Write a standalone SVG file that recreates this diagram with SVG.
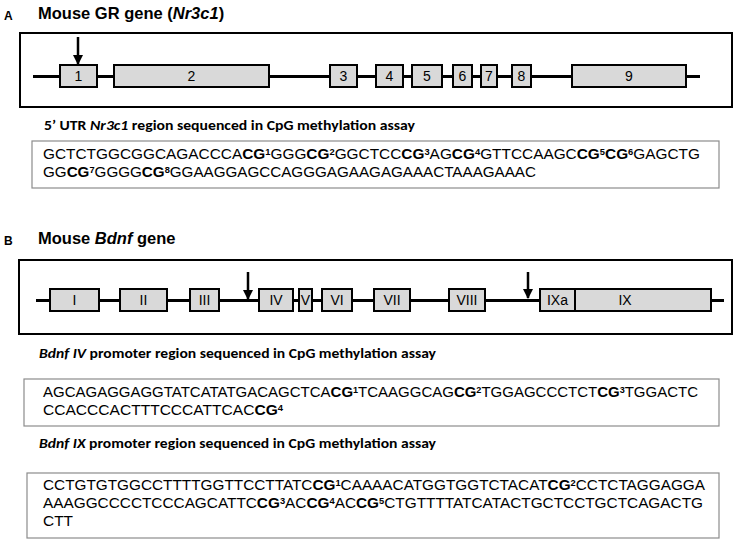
<svg xmlns="http://www.w3.org/2000/svg" width="734" height="540" viewBox="0 0 734 540">
<defs>
<style>
.lbl{font-family:"Liberation Sans",Arial,sans-serif;font-weight:bold;font-size:12px;fill:#000}
.title{font-family:"Liberation Sans",Arial,sans-serif;font-weight:bold;font-size:16.5px;fill:#000}
.sub{font-family:Carlito,"Open Sans",sans-serif;font-weight:bold;font-size:13.5px;fill:#000}
.seq{font-family:"Liberation Sans",Arial,sans-serif;font-size:14px;fill:#000}
.b{font-weight:bold}
.sup{font-weight:bold;font-size:8.5px}
.frame{fill:#fff;stroke:#000;stroke-width:2}
.seqbox{fill:#fff;stroke:#8c8c8c;stroke-width:1.2}
.exon{fill:#d9d9d9;stroke:#000;stroke-width:2}
.gl{stroke:#000;stroke-width:3;fill:none}
.ex{font-family:"Liberation Sans",Arial,sans-serif;font-size:14px;fill:#000;text-anchor:middle}
.arr{stroke:#000;stroke-width:2.5;fill:none}
</style>
<marker id="ah" viewBox="0 0 10 10" refX="9" refY="5" markerWidth="4" markerHeight="4" orient="auto" markerUnits="strokeWidth"><path d="M0,0 L10,5 L0,10 z" fill="#000"/></marker>
</defs>
<rect width="734" height="540" fill="#fff"/>

<!-- Panel titles and frames -->
<text class="lbl" x="4" y="20">A</text>
<text class="title" x="38" y="19">Mouse GR gene (<tspan font-style="italic">Nr3c1</tspan>)</text>
<rect class="frame" x="20" y="33" width="712" height="74"/>
<text class="lbl" x="4" y="245">B</text>
<text class="title" x="38" y="244">Mouse <tspan font-style="italic">Bdnf</tspan> gene</text>
<rect class="frame" x="19" y="260" width="713" height="74"/>

<g id="connectors">
<line class="gl" x1="33" y1="76.5" x2="700" y2="76.5"/>
<line class="gl" x1="36" y1="300.5" x2="724" y2="300.5"/>
<line class="arr" x1="78" y1="37" x2="78" y2="64" marker-end="url(#ah)"/>
<line class="arr" x1="248" y1="272" x2="248" y2="299" marker-end="url(#ah)"/>
<line class="arr" x1="528" y1="272" x2="528" y2="298" marker-end="url(#ah)"/>
</g>

<g id="exA1"><rect class="exon" x="60" y="65" width="37" height="22"/><text class="ex" x="78.5" y="81">1</text></g>
<g id="exA2"><rect class="exon" x="114" y="65" width="155" height="22"/><text class="ex" x="191.5" y="81">2</text></g>
<g id="exA3"><rect class="exon" x="330" y="65" width="27" height="22"/><text class="ex" x="343.5" y="81">3</text></g>
<g id="exA4"><rect class="exon" x="376" y="65" width="27" height="22"/><text class="ex" x="389.5" y="81">4</text></g>
<g id="exA5"><rect class="exon" x="412" y="65" width="30" height="22"/><text class="ex" x="427" y="81">5</text></g>
<g id="exA6"><rect class="exon" x="453" y="65" width="19" height="22"/><text class="ex" x="462.5" y="81">6</text></g>
<g id="exA7"><rect class="exon" x="481" y="65" width="16" height="22"/><text class="ex" x="489" y="81">7</text></g>
<g id="exA8"><rect class="exon" x="512" y="65" width="19" height="22"/><text class="ex" x="521.5" y="81">8</text></g>
<g id="exA9"><rect class="exon" x="572" y="65" width="114" height="22"/><text class="ex" x="629" y="81">9</text></g>

<text class="sub" x="44" y="130" textLength="371" lengthAdjust="spacingAndGlyphs">5’ UTR <tspan font-style="italic">Nr3c1</tspan> region sequenced in CpG methylation assay</text>
<g id="seqA">
<rect class="seqbox" x="32" y="141" width="687" height="47"/>
<text class="seq" x="43" y="159" textLength="657" lengthAdjust="spacingAndGlyphs">GCTCTGGCGGCAGACCCA<tspan class="b">CG</tspan><tspan class="sup" dy="-4">1</tspan><tspan dy="4">GGG</tspan><tspan class="b">CG</tspan><tspan class="sup" dy="-4">2</tspan><tspan dy="4">GGCTCC</tspan><tspan class="b">CG</tspan><tspan class="sup" dy="-4">3</tspan><tspan dy="4">AG</tspan><tspan class="b">CG</tspan><tspan class="sup" dy="-4">4</tspan><tspan dy="4">GTTCCAAGC</tspan><tspan class="b">CG</tspan><tspan class="sup" dy="-4">5</tspan><tspan class="b" dy="4">CG</tspan><tspan class="sup" dy="-4">6</tspan><tspan dy="4">GAGCTG</tspan></text>
<text class="seq" x="43" y="177" textLength="493" lengthAdjust="spacingAndGlyphs">GG<tspan class="b">CG</tspan><tspan class="sup" dy="-4">7</tspan><tspan dy="4">GGGG</tspan><tspan class="b">CG</tspan><tspan class="sup" dy="-4">8</tspan><tspan dy="4">GGAAGGAGCCAGGGAGAAGAGAAACTAAAGAAAC</tspan></text>
</g>

<g id="exB1"><rect class="exon" x="50" y="289" width="49" height="22"/><text class="ex" x="74.5" y="305">I</text></g>
<g id="exB2"><rect class="exon" x="120" y="289" width="47" height="22"/><text class="ex" x="143.5" y="305">II</text></g>
<g id="exB3"><rect class="exon" x="190" y="289" width="29" height="22"/><text class="ex" x="204.5" y="305">III</text></g>
<g id="exB4"><rect class="exon" x="259" y="289" width="34" height="22"/><text class="ex" x="276" y="305">IV</text></g>
<g id="exB5"><rect class="exon" x="299" y="289" width="13" height="22"/><text class="ex" x="305.5" y="305">V</text></g>
<g id="exB6"><rect class="exon" x="322" y="289" width="30" height="22"/><text class="ex" x="337" y="305">VI</text></g>
<g id="exB7"><rect class="exon" x="374" y="289" width="36" height="22"/><text class="ex" x="392" y="305">VII</text></g>
<g id="exB8"><rect class="exon" x="449" y="289" width="36" height="22"/><text class="ex" x="467" y="305">VIII</text></g>
<g id="exB9a"><rect class="exon" x="540" y="289" width="35" height="22"/><text class="ex" x="557.5" y="305">IXa</text></g>
<g id="exB9"><rect class="exon" x="575" y="289" width="136" height="22"/><text class="ex" x="625" y="305">IX</text></g>

<text class="sub" x="39" y="358" textLength="397" lengthAdjust="spacingAndGlyphs"><tspan font-style="italic">Bdnf IV</tspan> promoter region sequenced in CpG methylation assay</text>
<g id="seqB4">
<rect class="seqbox" x="24" y="379" width="695" height="47"/>
<text class="seq" x="43" y="397" textLength="655" lengthAdjust="spacingAndGlyphs">AGCAGAGGAGGTATCATATGACAGCTCA<tspan class="b">CG</tspan><tspan class="sup" dy="-4">1</tspan><tspan dy="4">TCAAGGCAG</tspan><tspan class="b">CG</tspan><tspan class="sup" dy="-4">2</tspan><tspan dy="4">TGGAGCCCTCT</tspan><tspan class="b">CG</tspan><tspan class="sup" dy="-4">3</tspan><tspan dy="4">TGGACTC</tspan></text>
<text class="seq" x="43" y="415" textLength="240" lengthAdjust="spacingAndGlyphs">CCACCCACTTTCCCATTCAC<tspan class="b">CG</tspan><tspan class="sup" dy="-4">4</tspan></text>
</g>

<text class="sub" x="39" y="448" textLength="397" lengthAdjust="spacingAndGlyphs"><tspan font-style="italic">Bdnf IX</tspan> promoter region sequenced in CpG methylation assay</text>
<g id="seqB9">
<rect class="seqbox" x="27" y="473" width="692" height="65"/>
<text class="seq" x="43" y="490" textLength="662" lengthAdjust="spacingAndGlyphs">CCTGTGTGGCCTTTTGGTTCCTTATC<tspan class="b">CG</tspan><tspan class="sup" dy="-4">1</tspan><tspan dy="4">CAAAACATGGTGGTCTACAT</tspan><tspan class="b">CG</tspan><tspan class="sup" dy="-4">2</tspan><tspan dy="4">CCTCTAGGAGGA</tspan></text>
<text class="seq" x="43" y="508" textLength="660" lengthAdjust="spacingAndGlyphs">AAAGGCCCCTCCCAGCATTC<tspan class="b">CG</tspan><tspan class="sup" dy="-4">3</tspan><tspan dy="4">AC</tspan><tspan class="b">CG</tspan><tspan class="sup" dy="-4">4</tspan><tspan dy="4">AC</tspan><tspan class="b">CG</tspan><tspan class="sup" dy="-4">5</tspan><tspan dy="4">CTGTTTTATCATACTGCTCCTGCTCAGACTG</tspan></text>
<text class="seq" x="43" y="526" textLength="30" lengthAdjust="spacingAndGlyphs">CTT</text>
</g>
</svg>
